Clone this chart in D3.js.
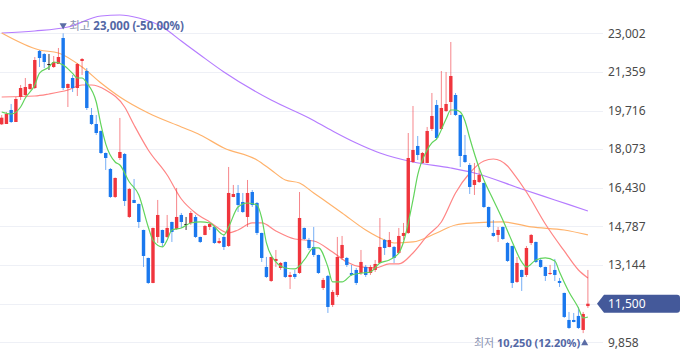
<!DOCTYPE html>
<html><head><meta charset="utf-8">
<script src="https://cdn.jsdelivr.net/npm/d3@7"></script>
<style>html,body{margin:0;padding:0;background:#fff;overflow:hidden}svg{display:block}</style>
</head><body><div id="chart"></div>
<script>
const openP = [19131,19144,19740,19229,20293,20378,20633,20675,22249,22121,21696,21568,21696,22802,20675,21101,20675,21824,21398,19527,19144,18847,17911,17231,16040,17698,17868,15189,15912,15742,14636,13445,12382,14339,14636,14339,14976,14679,15274,14891,14934,15189,14339,14424,14764,14764,14083,14339,13955,16040,16210,15827,15189,16252,15785,14509,13063,12467,13318,13020,13275,12637,12765,12807,14721,14211,13913,13573,12169,12680,11446,11871,13445,13445,12807,12935,12807,13063,12807,12935,13233,14211,13913,13913,13658,14381,14509,17528,18209,17486,17486,18932,19953,18932,19697,20080,20378,19527,17826,17401,16550,16678,16635,15614,14509,14424,14764,14083,13955,12425,12935,12722,14083,14126,13360,13063,12765,12935,12467,11957,10808,10808,10979,10383,11400];
const closeP = [19412,19570,19229,20208,20675,20718,20845,21866,21951,21781,21696,21781,21994,20675,20845,20675,21696,21909,19825,19144,18761,17911,17698,16040,16848,17953,15869,16380,15785,14976,13530,12382,14721,15274,14083,14721,14551,15189,14976,14891,15359,14339,14126,14806,14891,14083,14168,13913,16210,16167,15699,15401,16210,15699,14509,13445,12637,13488,13403,13233,12637,12722,12637,15146,14253,13870,13573,12807,12510,11361,11999,13488,13998,13148,12722,12382,13275,12722,13063,13190,13913,13870,14211,13445,14381,14509,17698,18038,17826,17911,18847,19485,18549,19825,19995,21186,19527,17783,17528,16465,16763,16975,15614,14764,14381,14636,14253,13318,12382,13233,12637,13870,14424,13275,13063,12680,12807,12722,12382,10936,10468,10723,10468,11063,11500];
const highP = [19527,19655,19995,20293,20803,21101,20870,21994,22292,22164,22121,22036,22377,23000,20870,21228,21739,21951,21526,19825,19527,18870,17930,17273,16870,19400,17911,16423,16805,15760,14650,13460,14740,15912,14650,15274,14990,16423,15359,15189,15444,15274,14350,14849,14934,14806,14296,14424,17316,16550,16550,16210,16763,16337,15827,14520,13488,13500,13785,13275,13290,12850,12935,16252,14740,14296,14764,13590,12595,12722,12084,14339,14381,13488,13148,13020,13785,13148,13148,13360,15146,14253,14551,13955,14721,14934,18761,19910,18634,17953,19017,20463,20165,21398,21356,22632,20463,19540,18677,17486,17486,17273,16650,15630,15061,14764,14780,14126,13970,13488,12950,13955,14466,14140,13445,13075,13148,13403,12595,11970,11149,11106,11361,11149,12935];
const lowP = [19102,19144,19187,19229,20165,20335,20590,20633,21568,21526,21441,21526,21696,20590,19867,20505,20335,21228,19740,19102,18677,17868,17188,15997,15997,17613,15657,15146,15780,14721,13062,12340,12370,14083,13913,14296,14126,14636,14721,14636,14849,14296,14083,14410,14636,14041,14041,13785,13913,16030,15401,15359,14764,15614,14424,13275,12595,12425,13063,12935,12595,12127,12552,12765,14211,13785,13488,12765,12084,11106,11361,11786,13360,13063,12680,12297,12722,12637,12722,12850,13220,13573,13900,13233,13615,14211,14466,17486,17613,17470,17470,18847,18464,18889,19655,19527,19485,17316,17486,16167,16125,16635,15572,14721,14338,14126,14211,13275,12169,12382,12042,12637,13998,13233,13020,12467,12722,12467,12212,10893,10426,10710,10426,10250,11319];

const ma5Idx = [0,2,4,5,7,8,10,11,13,15,16,17,18,20,21,22,24,25,27,29,31,32,34,35,36,38,40,42,44,47,48,50,52,54,55,56,58,60,62,64,66,67,69,70,72,74,76,78,80,82,84,85,87,88,90,91,92,94,95,96,97,98,99,101,102,104,106,108,110,111,113,115,117,118,120,122,123,124];
const ma5 = [19655,19570,19867,20250,20803,21313,21569,21781,21654,21300,21101,21101,20888,20080,19102,18300,17528,17400,16678,16125,14764,14200,13913,14211,14636,14721,14934,14977,14934,14424,14764,15614,15784,15699,15146,14083,13275,13020,12978,13360,13871,13871,13063,12425,12425,12722,12800,12850,13233,13360,13658,14126,15912,16975,18039,18337,18507,19357,19740,19740,19655,19272,18549,17273,16762,15912,15061,14126,13275,13063,13360,13445,13318,12850,11999,11319,10893,10936];
const ma20Idx = [0,7,10,14,17,19,22,26,28,31,35,38,41,44,48,50,53,55,58,62,66,70,73,76,79,82,84,87,90,93,96,99,102,104,107,108,111,115,119,122,124];
const ma20 = [20293,20335,20421,20590,20803,20803,20590,19867,19102,18039,16975,15954,15359,14977,14509,14636,14934,14934,14594,14253,14168,13700,13275,13063,13020,13190,13190,13658,14381,14977,16210,17060,17571,17656,17358,17103,16252,14892,13743,12935,12595];
const ma60Idx = [0,8,12,17,21,25,31,38,42,47,54,57,60,63,66,72,77,81,83,87,92,96,100,106,112,119,124];
const ma60 = [23015,22292,22164,21569,20888,20293,19612,19017,18677,18124,17613,17188,16762,16635,16210,15359,14636,14211,14083,14126,14509,14849,14934,14977,14764,14636,14424];
const ma120Idx = [0,7,14,21,25,29,34,38,42,47,57,65,70,75,80,87,95,100,110,117,124];
const ma120 = [23015,23100,23270,23738,23780,23652,23270,22674,22079,21356,20165,19400,18847,18336,17911,17528,17273,17061,16380,15912,15444];

const yTicks = [9858,11501,13144,14787,16430,18073,19716,21359,23002];
const currentPrice = 11500;

const W = 680, H = 358;
const svg = d3.select("#chart").append("svg").attr("width", W).attr("height", H)
  .style("font-family", "'Noto Sans','Noto Sans CJK KR',sans-serif");

const n = openP.length;
const x = d3.scaleLinear().domain([0, n - 1]).range([1.7, 587.9]);
const y = d3.scaleLinear().domain([9858, 23002]).range([342.3, 33.3]);

// grid
svg.append("g").selectAll("line").data(yTicks).join("line")
  .attr("x1", 0).attr("x2", 603)
  .attr("y1", d => Math.round(y(d)) + 0.5).attr("y2", d => Math.round(y(d)) + 0.5)
  .attr("stroke", "#eef0f6").attr("stroke-width", 1);

// axis labels
const fmt = d3.format(",");
svg.append("g").selectAll("text").data(yTicks.filter(t => Math.abs(t - currentPrice) > 200)).join("text")
  .attr("x", 608).attr("y", d => y(d)).attr("dy", "0.35em")
  .attr("font-size", 12).attr("fill", "#4a4a4a").text(d => fmt(d));

// MA lines
const lineGen = d3.line().curve(d3.curveMonotoneX);
function drawMA(idx, vals, color) {
  svg.append("path").attr("d", lineGen(idx.map((i, k) => [x(i), y(vals[k])])))
    .attr("fill", "none").attr("stroke", color).attr("stroke-width", 1.2);
}
drawMA(ma120Idx, ma120, "#b57cff");
drawMA(ma60Idx, ma60, "#ffb26b");
drawMA(ma20Idx, ma20, "#ff8585");

// candles
const idx = d3.range(n);
const colorOf = i => closeP[i] > openP[i] ? "#f0353d" : (closeP[i] < openP[i] ? "#1a78ee" : "#222");
const cg = svg.append("g");
cg.selectAll("line").data(idx).join("line")
  .attr("x1", i => x(i)).attr("x2", i => x(i))
  .attr("y1", i => y(highP[i])).attr("y2", i => y(lowP[i]))
  .attr("stroke", colorOf).attr("stroke-opacity", i => closeP[i] === openP[i] ? 0.9 : 0.6).attr("stroke-width", 1);
cg.selectAll("rect").data(idx).join("rect")
  .attr("x", i => x(i) - 1.7).attr("width", 3.4)
  .attr("y", i => y(Math.max(openP[i], closeP[i])))
  .attr("height", i => Math.max(1, Math.abs(y(openP[i]) - y(closeP[i]))))
  .attr("fill", colorOf);

drawMA(ma5Idx, ma5, "#62d45c");

// high / low labels
const hiVal = d3.max(highP), hiI = highP.indexOf(hiVal);
const loVal = d3.min(lowP), loI = lowP.indexOf(loVal);
const pct = v => v.toFixed(2);
const hiPct = (currentPrice - hiVal) / hiVal * 100;
const loPct = (currentPrice - loVal) / loVal * 100;

const hiX = x(hiI);
svg.append("path").attr("d", d3.symbol().type(d3.symbolTriangle).size(22)())
  .attr("transform", `translate(${hiX},${y(hiVal) - 8}) rotate(180)`).attr("fill", "#5a6ca6");
const ht = svg.append("text").attr("x", hiX + 6).attr("y", y(hiVal) - 3.5).attr("font-size", 11.5);
ht.append("tspan").attr("fill", "#8c94b2").text("최고 ");
ht.append("tspan").attr("fill", "#5367a5").attr("font-weight", "bold").text(`${fmt(hiVal)} (${pct(hiPct)}%)`);

const loX = x(loI);
svg.append("path").attr("d", d3.symbol().type(d3.symbolTriangle).size(22)())
  .attr("transform", `translate(${loX + 1.5},${y(loVal) + 10})`).attr("fill", "#5a6ca6");
const lt = svg.append("text").attr("x", loX - 3).attr("y", y(loVal) + 14).attr("font-size", 11).attr("text-anchor", "end");
lt.append("tspan").attr("fill", "#8c94b2").text("최저 ");
lt.append("tspan").attr("fill", "#5367a5").attr("font-weight", "bold").text(`${fmt(loVal)} (${pct(loPct)}%)`);

// current price tag
const ty = y(currentPrice);
svg.append("path")
  .attr("d", `M597,${ty} L604,${ty - 9} L677,${ty - 9} Q680,${ty - 9} 680,${ty - 6} L680,${ty + 6} Q680,${ty + 9} 677,${ty + 9} L604,${ty + 9} Z`)
  .attr("fill", "#44599a");
svg.append("text").attr("x", 608).attr("y", ty).attr("dy", "0.35em")
  .attr("font-size", 12).attr("fill", "#fff").text(fmt(currentPrice));
</script></body></html>
